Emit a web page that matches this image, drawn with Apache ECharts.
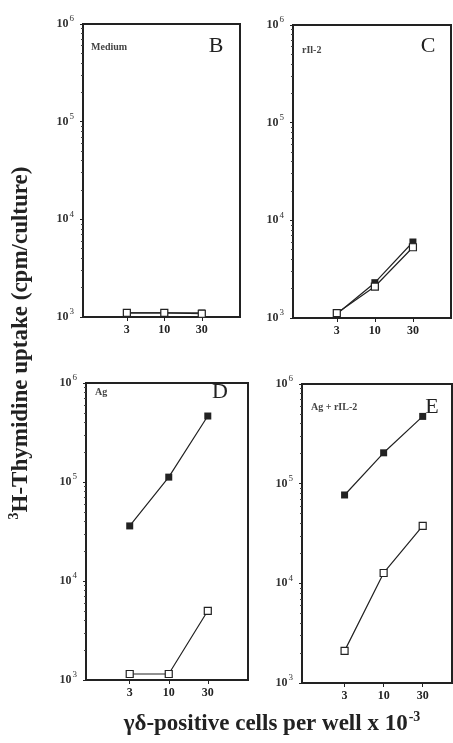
<!DOCTYPE html>
<html>
<head>
<meta charset="utf-8">
<script src="https://cdn.jsdelivr.net/npm/echarts@6/dist/echarts.min.js"></script>
<style>
html,body{margin:0;padding:0;background:#fff;}
#chart{width:453px;height:743px;}
</style>
</head>
<body>
<div id="chart"></div>
<script>
// ---- data ----
const xLabels = ['3', '10', '30'];
const medFilled = [1100, 1100, 1100];
const medOpen = [1100, 1100, 1080];
const il2Filled = [1100, 2300, 6000];
const il2Open = [1120, 2100, 5300];
const agFilled = [36000, 112000, 464000];
const agOpen = [1150, 1150, 5000];
const agIl2Filled = [77000, 204000, 473000];
const agIl2Open = [2100, 12700, 37800];

const panels = [
  { filled: medFilled, open: medOpen, grid: { left: 83, top: 24, width: 157, height: 293 }, xmin: -1.17, xmax: 3.02 },
  { filled: il2Filled, open: il2Open, grid: { left: 293, top: 25, width: 158, height: 293 }, xmin: -1.15, xmax: 3.0 },
  { filled: agFilled, open: agOpen, grid: { left: 86, top: 383, width: 162, height: 297 }, xmin: -1.12, xmax: 3.03 },
  { filled: agIl2Filled, open: agIl2Open, grid: { left: 302, top: 384, width: 150, height: 299 }, xmin: -1.09, xmax: 2.75 }
];

const serif = '"Liberation Serif", "DejaVu Serif", serif';
const ink = '#222';

const grids = [], xAxes = [], yAxes = [], series = [];
panels.forEach((p, i) => {
  grids.push(Object.assign({ show: true, borderColor: ink, borderWidth: 2, backgroundColor: '#fff' }, p.grid));
  xAxes.push({
    type: 'value', gridIndex: i, min: p.xmin, max: p.xmax,
    axisLine: { show: true, onZero: false, lineStyle: { color: ink, width: 2 } },
    splitLine: { show: false },
    axisTick: { show: true, length: 4, customValues: [0, 1, 2], lineStyle: { color: ink } },
    axisLabel: {
      customValues: [0, 1, 2], margin: 7,
      formatter: v => xLabels[Math.round(v)] || '',
      fontFamily: serif, fontSize: 12, fontWeight: 'bold', color: ink
    }
  });
  yAxes.push({
    type: 'log', logBase: 10, gridIndex: i, min: 1000, max: 1000000,
    axisLine: { show: true, onZero: false, lineStyle: { color: ink, width: 2 } },
    splitLine: { show: false },
    axisTick: { show: true, length: 3, lineStyle: { color: ink } },
    minorTick: { show: true, splitNumber: 9, length: 2, lineStyle: { color: '#444' } },
    minorSplitLine: { show: false },
    axisLabel: {
      margin: 9,
      formatter: v => '{b|10}{s|' + Math.round(Math.log10(v)) + '}',
      rich: {
        b: { fontFamily: serif, fontSize: 12, fontWeight: 'bold', color: '#333' },
        s: { fontFamily: serif, fontSize: 9, color: '#333', padding: [0, 0, 10, 1] }
      }
    }
  });
  series.push({
    type: 'line', xAxisIndex: i, yAxisIndex: i, symbol: 'rect', symbolSize: 7,
    lineStyle: { color: ink, width: 1.2 }, itemStyle: { color: ink },
    data: p.filled.map((v, k) => [k, v]), z: 3, animation: false
  });
  series.push({
    type: 'line', xAxisIndex: i, yAxisIndex: i, symbol: 'rect', symbolSize: 7,
    lineStyle: { color: ink, width: 1.2 }, itemStyle: { color: '#fff', borderColor: ink, borderWidth: 1.2 },
    data: p.open.map((v, k) => [k, v]), z: 4, animation: false
  });
});

function txt(text, x, y, size, opts) {
  return {
    type: 'text', x: x, y: y, z: 100,
    style: Object.assign({ text: text, fontFamily: serif, fontSize: size, fill: ink,
      textAlign: 'left', textVerticalAlign: 'middle' }, opts || {})
  };
}

const graphics = [
  txt('Medium', 91, 47, 10, { fontWeight: 'bold', fill: '#444' }),
  txt('B', 216, 46, 22, { textAlign: 'center' }),
  txt('rIl-2', 302, 50, 10, { fontWeight: 'bold', fill: '#444' }),
  txt('C', 428, 46, 22, { textAlign: 'center' }),
  txt('Ag', 95, 392, 10, { fontWeight: 'bold', fill: '#444' }),
  txt('D', 220, 392, 22, { textAlign: 'center' }),
  txt('Ag + rIL-2', 311, 407, 10, { fontWeight: 'bold', fill: '#444' }),
  txt('E', 432, 407, 22, { textAlign: 'center' }),
  {
    type: 'text', x: 21, y: 343, rotation: Math.PI / 2, z: 100,
    style: {
      text: '{s|3}{m|H-Thymidine uptake (cpm/culture)}',
      textAlign: 'center', textVerticalAlign: 'middle',
      rich: {
        s: { fontFamily: serif, fontSize: 14, fontWeight: 'bold', fill: ink, padding: [0, 0, 14, 0] },
        m: { fontFamily: serif, fontSize: 23, fontWeight: 'bold', fill: ink }
      }
    }
  },
  {
    type: 'text', x: 272, y: 724, z: 100,
    style: {
      text: '{m|γδ-positive cells per well x 10}{s|-3}',
      textAlign: 'center', textVerticalAlign: 'middle',
      rich: {
        m: { fontFamily: serif, fontSize: 23, fontWeight: 'bold', fill: ink },
        s: { fontFamily: serif, fontSize: 14, fontWeight: 'bold', fill: ink, padding: [0, 0, 14, 1] }
      }
    }
  }
];

const chart = echarts.init(document.getElementById('chart'), null, { renderer: 'canvas' });
chart.setOption({
  backgroundColor: '#fff',
  animation: false,
  grid: grids, xAxis: xAxes, yAxis: yAxes, series: series,
  graphic: graphics
});
</script>
</body>
</html>
